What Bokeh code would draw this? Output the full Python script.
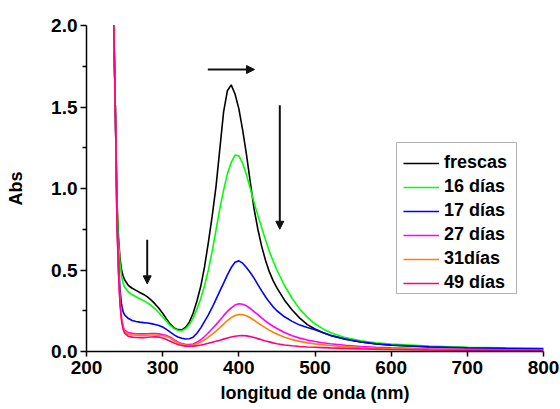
from bokeh.plotting import figure
from bokeh.models import (Range1d, FixedTicker, PrintfTickFormatter, Legend,
                          LegendItem, Arrow, NormalHead, BoxAnnotation)
from bokeh.embed import file_html
from bokeh.resources import INLINE

# Wavelength grid (nm)
wavelength = [230, 232, 234, 236, 238, 240, 242, 244, 246, 248, 250,
              255, 260, 265, 270, 275, 280, 285, 290, 295, 300,
              305, 310, 315, 320, 325, 330, 335, 340, 345, 350,
              355, 360, 365, 370, 375, 380, 385, 390, 395, 400,
              405, 410, 415, 420, 425, 430, 435, 440, 445, 450,
              460, 470, 480, 490, 500, 510, 520, 540, 560, 580, 600,
              650, 700, 750, 800]

abs_frescas = [3.6, 3.0, 2.45, 1.95, 1.45, 0.92, 0.70, 0.57, 0.50, 0.465, 0.44,
               0.405, 0.388, 0.375, 0.362, 0.35, 0.335, 0.315, 0.292, 0.265, 0.235,
               0.20, 0.168, 0.145, 0.134, 0.133, 0.148, 0.18, 0.235, 0.31, 0.40,
               0.52, 0.67, 0.83, 1.01, 1.24, 1.47, 1.60, 1.636, 1.58, 1.49,
               1.36, 1.21, 1.04, 0.875, 0.75, 0.645, 0.56, 0.49, 0.435, 0.39,
               0.315, 0.255, 0.205, 0.165, 0.138, 0.116, 0.099, 0.075, 0.058, 0.047, 0.039,
               0.028, 0.022, 0.018, 0.016]

abs_16 = [3.6, 3.0, 2.45, 1.95, 1.45, 0.92, 0.68, 0.54, 0.46, 0.42, 0.395,
          0.365, 0.348, 0.336, 0.324, 0.312, 0.298, 0.282, 0.262, 0.238, 0.212,
          0.186, 0.16, 0.14, 0.13, 0.128, 0.14, 0.165, 0.205, 0.26, 0.325,
          0.405, 0.50, 0.615, 0.745, 0.875, 0.99, 1.09, 1.16, 1.205, 1.20,
          1.155, 1.085, 1.0, 0.915, 0.835, 0.76, 0.685, 0.615, 0.555, 0.50,
          0.405, 0.325, 0.26, 0.21, 0.17, 0.14, 0.117, 0.085, 0.066, 0.054, 0.045,
          0.033, 0.026, 0.022, 0.02]

abs_17 = [3.6, 3.0, 2.45, 1.95, 1.45, 0.84, 0.56, 0.38, 0.29, 0.245, 0.225,
          0.202, 0.19, 0.184, 0.18, 0.177, 0.175, 0.171, 0.166, 0.16, 0.15,
          0.136, 0.119, 0.102, 0.089, 0.081, 0.077, 0.078, 0.088, 0.112, 0.145,
          0.185, 0.225, 0.27, 0.32, 0.37, 0.42, 0.47, 0.515, 0.548, 0.556,
          0.542, 0.515, 0.485, 0.45, 0.41, 0.372, 0.336, 0.303, 0.274, 0.25,
          0.213, 0.185, 0.162, 0.147, 0.134, 0.117, 0.10, 0.076, 0.059, 0.048, 0.04,
          0.029, 0.023, 0.019, 0.017]

abs_27 = [3.6, 3.0, 2.45, 1.95, 1.45, 0.80, 0.50, 0.31, 0.205, 0.155, 0.13,
          0.116, 0.111, 0.109, 0.108, 0.108, 0.109, 0.11, 0.11, 0.108, 0.104,
          0.098, 0.088, 0.072, 0.058, 0.049, 0.044, 0.042, 0.046, 0.057, 0.072,
          0.092, 0.115, 0.14, 0.165, 0.192, 0.22, 0.246, 0.268, 0.285, 0.293,
          0.29, 0.28, 0.264, 0.245, 0.226, 0.206, 0.187, 0.17, 0.155, 0.141,
          0.117, 0.097, 0.082, 0.07, 0.061, 0.054, 0.048, 0.038, 0.031, 0.026, 0.022,
          0.016, 0.013, 0.011, 0.01]

abs_31 = [3.6, 3.0, 2.45, 1.95, 1.45, 0.80, 0.50, 0.30, 0.20, 0.148, 0.122,
          0.106, 0.102, 0.10, 0.099, 0.099, 0.10, 0.101, 0.101, 0.099, 0.097,
          0.092, 0.082, 0.066, 0.053, 0.044, 0.039, 0.037, 0.039, 0.047, 0.058,
          0.072, 0.088, 0.106, 0.125, 0.146, 0.168, 0.19, 0.208, 0.221, 0.227,
          0.226, 0.219, 0.207, 0.192, 0.176, 0.16, 0.145, 0.131, 0.118, 0.107,
          0.088, 0.073, 0.062, 0.053, 0.047, 0.042, 0.037, 0.03, 0.024, 0.02, 0.017,
          0.013, 0.01, 0.009, 0.008]

abs_49 = [3.6, 3.0, 2.45, 1.95, 1.45, 0.78, 0.48, 0.29, 0.19, 0.138, 0.112,
          0.093, 0.088, 0.086, 0.085, 0.085, 0.087, 0.089, 0.09, 0.088, 0.083,
          0.074, 0.063, 0.052, 0.043, 0.037, 0.033, 0.032, 0.033, 0.036, 0.04,
          0.045, 0.051, 0.057, 0.063, 0.069, 0.076, 0.083, 0.089, 0.094, 0.097,
          0.098, 0.096, 0.092, 0.086, 0.079, 0.072, 0.065, 0.059, 0.053, 0.048,
          0.04, 0.035, 0.031, 0.028, 0.026, 0.024, 0.022, 0.019, 0.016, 0.014, 0.012,
          0.009, 0.008, 0.007, 0.007]

series_labels = ["frescas", "16 días", "17 días", "27 días", "31días", "49 días"]
series_values = [abs_frescas, abs_16, abs_17, abs_27, abs_31, abs_49]
series_colors = ["#000000", "#00ff00", "#0000ff", "#ff00ff", "#ff8000", "#ff0080"]

x_ticks = [200, 300, 400, 500, 600, 700, 800]
y_ticks = [0.0, 0.5, 1.0, 1.5, 2.0]
y_minor_ticks = [0.25, 0.75, 1.25, 1.75]

FONT = "Liberation Sans"

p = figure(width=560, height=409,
           x_range=Range1d(200, 800), y_range=Range1d(0, 2.0),
           output_backend="svg", toolbar_location=None,
           min_border_left=86, min_border_right=17,
           min_border_top=25, min_border_bottom=58)
p.outline_line_color = None
p.xgrid.visible = False
p.ygrid.visible = False
p.background_fill_color = "white"
p.border_fill_color = "white"

for ax in (p.xaxis[0], p.yaxis[0]):
    ax.axis_line_width = 1.5
    ax.major_tick_line_width = 1.5
    ax.minor_tick_line_width = 1.5
    ax.major_tick_in = 0
    ax.minor_tick_in = 0
    ax.major_label_text_font = FONT
    ax.major_label_text_font_style = "bold"
    ax.major_label_text_font_size = "19px"
    ax.major_label_text_color = "black"
    ax.axis_line_color = "black"
    ax.major_tick_line_color = "black"
    ax.minor_tick_line_color = "black"
    ax.axis_label_text_font = FONT
    ax.axis_label_text_font_style = "bold"
    ax.axis_label_text_font_size = "18px"
    ax.axis_label_text_color = "black"

p.xaxis.ticker = FixedTicker(ticks=x_ticks, minor_ticks=[])
p.xaxis.major_tick_out = 5
p.xaxis.minor_tick_out = 0
p.xaxis.major_label_standoff = 4
p.xaxis.axis_label = "longitud de onda (nm)"
p.xaxis.axis_label_standoff = 6

p.yaxis.ticker = FixedTicker(ticks=y_ticks, minor_ticks=y_minor_ticks)
p.yaxis.formatter = PrintfTickFormatter(format="%.1f")
p.yaxis.major_tick_out = 6
p.yaxis.minor_tick_out = 4
p.yaxis.major_label_standoff = 3
p.yaxis.axis_label = "Abs"
p.yaxis.axis_label_standoff = 22

items = []
for name, vals, col in zip(series_labels, series_values, series_colors):
    r = p.line(wavelength, vals, line_color=col, line_width=1.6)
    items.append(LegendItem(label=name, renderers=[r]))

# Legend frame (screen px relative to the plot frame), drawn under the entries
p.add_layout(BoxAnnotation(left=310, right=430, bottom=58, top=209,
                           left_units="screen", right_units="screen",
                           bottom_units="screen", top_units="screen",
                           fill_color="white", fill_alpha=1.0,
                           line_color="black", line_width=1))

legend = Legend(items=items, location=(317, 58), margin=0, padding=4,
                spacing=3, glyph_width=36, glyph_height=20, label_height=20,
                label_standoff=5, border_line_color=None,
                background_fill_alpha=0.0,
                label_text_font=FONT, label_text_font_style="bold",
                label_text_font_size="18px", label_text_color="black")
p.add_layout(legend)

# Trend arrows (wavelength, absorbance)
arrows = [
    (359.3, 1.73, 420.6, 1.73),   # peak shifts to longer wavelength
    (453.8, 1.51, 453.8, 0.75),   # band intensity drops
    (279.7, 0.685, 279.7, 0.415), # shoulder intensity drops
]
for xs, ys, xe, ye in arrows:
    p.add_layout(Arrow(end=NormalHead(size=8, fill_color="#111111",
                                      line_color="#111111", line_width=1),
                       x_start=xs, y_start=ys, x_end=xe, y_end=ye,
                       line_width=2, line_color="#111111"))

open("out.html", "w").write(file_html(p, INLINE))
